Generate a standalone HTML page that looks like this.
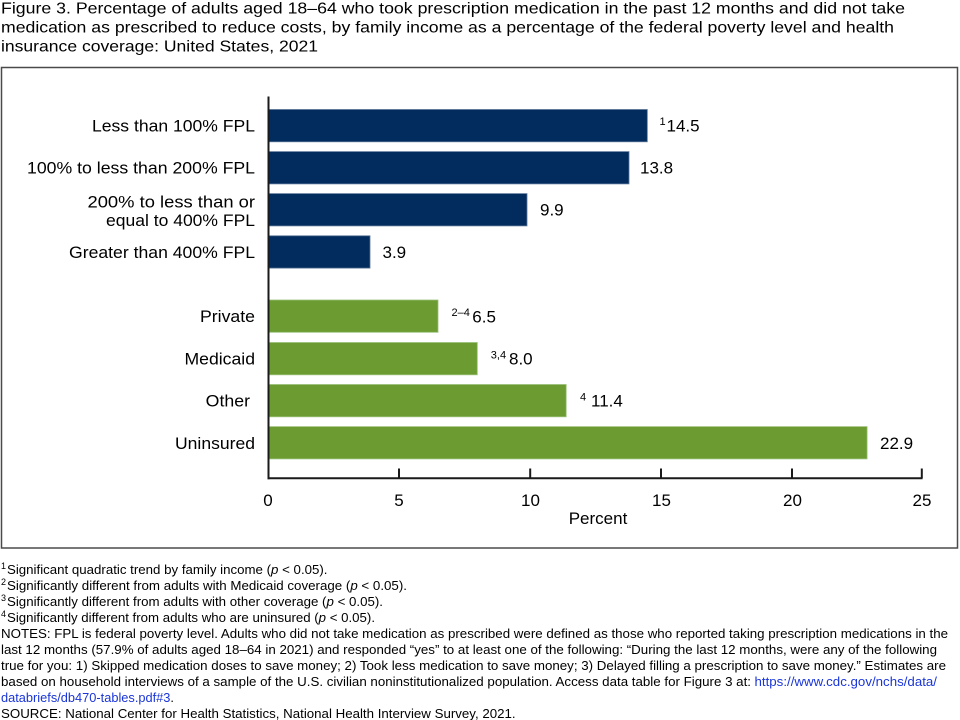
<!DOCTYPE html>
<html>
<head>
<meta charset="utf-8">
<style>
html,body{margin:0;padding:0;background:#fff;}
svg{display:block;}
text{font-family:"Liberation Sans",Arial,sans-serif;fill:#000;}
</style>
</head>
<body>
<svg width="960" height="720" viewBox="0 0 960 720" xmlns="http://www.w3.org/2000/svg">
<!-- Title -->
<text x="1" y="13.5" font-size="16" textLength="904" lengthAdjust="spacingAndGlyphs">Figure 3. Percentage of adults aged 18–64 who took prescription medication in the past 12 months and did not take</text>
<text x="1" y="32.5" font-size="16" textLength="893" lengthAdjust="spacingAndGlyphs">medication as prescribed to reduce costs, by family income as a percentage of the federal poverty level and health</text>
<text x="1" y="51.5" font-size="16" textLength="317" lengthAdjust="spacingAndGlyphs">insurance coverage: United States, 2021</text>

<!-- Box -->
<rect x="1.5" y="67.5" width="956" height="480.5" fill="none" stroke="#4a4a4a" stroke-width="1.5"/>

<!-- Bars navy -->
<g fill="#022c5d" stroke="#5a7597" stroke-width="0.8">
<rect x="268" y="109.5" width="379.3" height="32.3"/>
<rect x="268" y="151.6" width="361" height="32.3"/>
<rect x="268" y="193.6" width="259" height="32.3"/>
<rect x="268" y="235.8" width="102" height="32.3"/>
</g>
<!-- Bars green -->
<g fill="#6c9c31" stroke="#9cc07a" stroke-width="0.8">
<rect x="268" y="300" width="170" height="32.3"/>
<rect x="268" y="342.5" width="209.3" height="32.3"/>
<rect x="268" y="384.5" width="298.2" height="32.3"/>
<rect x="268" y="426.6" width="599.1" height="32.3"/>
</g>

<!-- Axes -->
<line x1="268.5" y1="96.5" x2="268.5" y2="479.3" stroke="#1a1a1a" stroke-width="2"/>
<line x1="267.5" y1="478.3" x2="922.6" y2="478.3" stroke="#1a1a1a" stroke-width="2"/>
<g stroke="#1a1a1a" stroke-width="2">
<line x1="399" y1="468.5" x2="399" y2="478"/>
<line x1="530.2" y1="468.5" x2="530.2" y2="478"/>
<line x1="661" y1="468.5" x2="661" y2="478"/>
<line x1="792" y1="468.5" x2="792" y2="478"/>
<line x1="921.8" y1="468.5" x2="921.8" y2="478"/>
</g>

<!-- Tick labels -->
<g font-size="17" text-anchor="middle">
<text x="268" y="506">0</text>
<text x="399" y="506">5</text>
<text x="530.5" y="506">10</text>
<text x="661.5" y="506">15</text>
<text x="792.5" y="506">20</text>
<text x="922" y="506">25</text>
<text x="598" y="524">Percent</text>
</g>

<!-- Category labels -->
<g font-size="17" text-anchor="end">
<text x="255" y="131.5" textLength="163" lengthAdjust="spacingAndGlyphs">Less than 100% FPL</text>
<text x="255" y="173.5" textLength="228" lengthAdjust="spacingAndGlyphs">100% to less than 200% FPL</text>
<text x="255" y="207.5" textLength="167.5" lengthAdjust="spacingAndGlyphs">200% to less than or</text>
<text x="255" y="226" textLength="149" lengthAdjust="spacingAndGlyphs">equal to 400% FPL</text>
<text x="255" y="258" textLength="186" lengthAdjust="spacingAndGlyphs">Greater than 400% FPL</text>
<text x="255" y="322" textLength="55" lengthAdjust="spacingAndGlyphs">Private</text>
<text x="255" y="364.5" textLength="70.5" lengthAdjust="spacingAndGlyphs">Medicaid</text>
<text x="250" y="406.5" textLength="44.3" lengthAdjust="spacingAndGlyphs">Other</text>
<text x="255" y="449" textLength="80" lengthAdjust="spacingAndGlyphs">Uninsured</text>
</g>

<!-- Value labels -->
<g font-size="17">
<text x="659.5" y="125" font-size="11">1</text>
<text x="666.5" y="131.5">14.5</text>
<text x="640" y="173.5">13.8</text>
<text x="540" y="215.5">9.9</text>
<text x="382.5" y="258">3.9</text>
<text x="451.5" y="316" font-size="11">2–4</text>
<text x="472.3" y="322.5">6.5</text>
<text x="490.8" y="358.5" font-size="11">3,4</text>
<text x="509" y="364.5">8.0</text>
<text x="580" y="400.5" font-size="11">4</text>
<text x="591" y="406.5">11.4</text>
<text x="880" y="449">22.9</text>
</g>

<!-- Footnotes -->
<g font-size="13">
<text x="1" y="569" font-size="9">1</text>
<text x="7" y="574" textLength="320.5" lengthAdjust="spacingAndGlyphs">Significant quadratic trend by family income (<tspan font-style="italic">p</tspan> &lt; 0.05).</text>
<text x="1" y="585" font-size="9">2</text>
<text x="7" y="590" textLength="400" lengthAdjust="spacingAndGlyphs">Significantly different from adults with Medicaid coverage (<tspan font-style="italic">p</tspan> &lt; 0.05).</text>
<text x="1" y="601" font-size="9">3</text>
<text x="7" y="606" textLength="376" lengthAdjust="spacingAndGlyphs">Significantly different from adults with other coverage (<tspan font-style="italic">p</tspan> &lt; 0.05).</text>
<text x="1" y="617" font-size="9">4</text>
<text x="7" y="622" textLength="368" lengthAdjust="spacingAndGlyphs">Significantly different from adults who are uninsured (<tspan font-style="italic">p</tspan> &lt; 0.05).</text>
<text x="1" y="638" textLength="947" lengthAdjust="spacingAndGlyphs">NOTES: FPL is federal poverty level. Adults who did not take medication as prescribed were defined as those who reported taking prescription medications in the</text>
<text x="1" y="654" textLength="936" lengthAdjust="spacingAndGlyphs">last 12 months (57.9% of adults aged 18–64 in 2021) and responded “yes” to at least one of the following: “During the last 12 months, were any of the following</text>
<text x="1" y="670" textLength="945" lengthAdjust="spacingAndGlyphs">true for you: 1) Skipped medication doses to save money; 2) Took less medication to save money; 3) Delayed filling a prescription to save money.” Estimates are</text>
<text x="1" y="686" textLength="750" lengthAdjust="spacingAndGlyphs">based on household interviews of a sample of the U.S. civilian noninstitutionalized population. Access data table for Figure 3 at:</text>
<text x="754.5" y="686" textLength="182.5" lengthAdjust="spacingAndGlyphs" style="fill:#1a35d8">https://www.cdc.gov/nchs/data/</text>
<text x="1" y="702" textLength="173" lengthAdjust="spacingAndGlyphs"><tspan style="fill:#1a35d8">databriefs/db470-tables.pdf#3</tspan>.</text>
<text x="1" y="718" textLength="514.6" lengthAdjust="spacingAndGlyphs">SOURCE: National Center for Health Statistics, National Health Interview Survey, 2021.</text>
</g>
</svg>
</body>
</html>
